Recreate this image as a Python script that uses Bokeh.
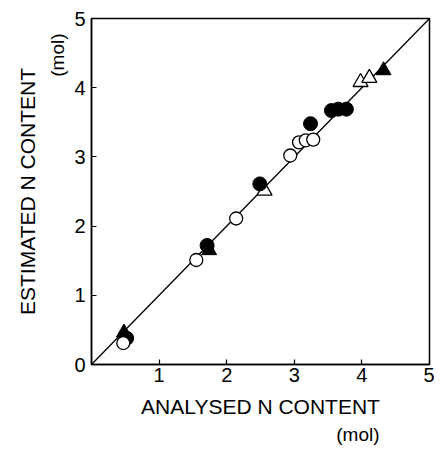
from bokeh.plotting import figure
from bokeh.models import Range1d, FixedTicker, Title
from bokeh.embed import file_html
from bokeh.resources import INLINE

# Data (analysed vs estimated N content, mol)
open_circle_x = [0.47, 1.55, 2.14, 2.94, 3.07, 3.17, 3.28]
open_circle_y = [0.31, 1.51, 2.11, 3.02, 3.21, 3.24, 3.25]
filled_circle_x = [0.52, 1.71, 2.49, 3.24, 3.55, 3.65, 3.77]
filled_circle_y = [0.38, 1.72, 2.61, 3.48, 3.67, 3.69, 3.69]
open_triangle_x = [2.56, 3.98, 4.11]
open_triangle_y = [2.51, 4.08, 4.14]
filled_triangle_x = [0.48, 1.74, 4.32]
filled_triangle_y = [0.46, 1.65, 4.25]
line_x = [0, 5]
line_y = [0, 5]
x_ticks = [1, 2, 3, 4, 5]
y_ticks = [0, 1, 2, 3, 4, 5]

FONT = "Liberation Sans"

p = figure(width=434, height=446, output_backend="svg", toolbar_location=None,
           x_range=Range1d(0, 5), y_range=Range1d(0, 5),
           min_border_left=91, min_border_right=5, min_border_top=18, min_border_bottom=82)
p.grid.visible = False
p.outline_line_color = "black"
p.outline_line_width = 1.5
p.background_fill_color = "white"
p.border_fill_color = "white"

p.xaxis[0].ticker = FixedTicker(ticks=x_ticks)
p.yaxis[0].ticker = FixedTicker(ticks=y_ticks)
for ax in (p.xaxis[0], p.yaxis[0]):
    ax.major_tick_in = 5
    ax.major_tick_out = 0
    ax.minor_tick_in = 0
    ax.minor_tick_out = 0
    ax.axis_line_color = "black"
    ax.axis_line_width = 1.5
    ax.major_tick_line_width = 1.2
    ax.major_label_text_font = FONT
    ax.major_label_text_font_size = "20px"
    ax.major_label_text_color = "black"
    ax.axis_label_text_font = FONT
    ax.axis_label_text_font_size = "21px"
    ax.axis_label_text_font_style = "normal"
    ax.axis_label_text_color = "black"

p.xaxis.axis_label = "ANALYSED N CONTENT"
p.xaxis.major_label_standoff = 3
p.yaxis.major_label_standoff = 6
p.xaxis.axis_label_standoff = 10

p.add_layout(Title(text="(mol)", align="right", offset=50, standoff=3,
                   text_font=FONT, text_font_size="19px", text_font_style="normal",
                   text_color="black"), "below")
p.add_layout(Title(text="(mol)", align="right", offset=15, standoff=7,
                   text_font=FONT, text_font_size="19px", text_font_style="normal",
                   text_color="black"), "left")
p.add_layout(Title(text="ESTIMATED N CONTENT", align="center", offset=4, standoff=6,
                   text_font=FONT, text_font_size="21px", text_font_style="normal",
                   text_color="black"), "left")

p.line(line_x, line_y, line_color="black", line_width=1.3)

p.scatter(open_triangle_x, open_triangle_y, marker="triangle", size=15,
          fill_color="white", line_color="black", line_width=1.3)
p.scatter(filled_triangle_x, filled_triangle_y, marker="triangle", size=15,
          fill_color="black", line_color="black", line_width=1.0)
p.scatter(filled_circle_x, filled_circle_y, marker="circle", size=14,
          fill_color="black", line_color="black", line_width=1.0)
p.scatter(open_circle_x, open_circle_y, marker="circle", size=13,
          fill_color="white", line_color="black", line_width=1.3)

open("out.html", "w").write(file_html(p, INLINE))
